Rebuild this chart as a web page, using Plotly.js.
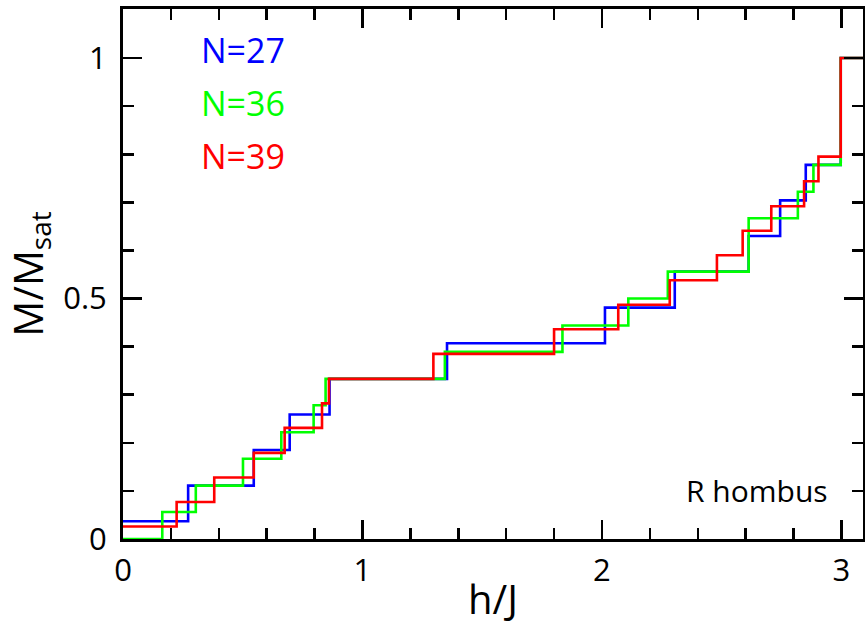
<!DOCTYPE html>
<html>
<head>
<meta charset="utf-8">
<script src="https://cdn.plot.ly/plotly-3.0.1.min.js"></script>
<style>html,body{margin:0;padding:0;background:#fff;}#chart{width:865px;height:626px;}</style>
</head>
<body>
<div id="chart"></div>
<script>
// N=27 (blue): step start positions (h/J) and magnetization levels
var hBlue = [0, 0.272, 0.546, 0.696, 0.8625, 1.353, 2.0125, 2.304, 2.6125, 2.744, 2.851, 2.997, 3.1];
var mBlue = [0.037, 0.111, 0.185, 0.259, 0.333, 0.407, 0.481, 0.556, 0.630, 0.704, 0.778, 1, 1];
// N=36 (green)
var hGreen = [0, 0.164, 0.304, 0.501, 0.661, 0.796, 0.846, 1.344, 1.835, 2.11, 2.275, 2.6125, 2.818, 2.883, 2.997, 3.1];
var mGreen = [0, 0.056, 0.111, 0.167, 0.222, 0.278, 0.333, 0.389, 0.444, 0.5, 0.556, 0.667, 0.722, 0.778, 1, 1];
// N=39 (red)
var hRed = [0, 0.224, 0.381, 0.546, 0.675, 0.831, 0.86, 1.296, 1.80, 2.068, 2.283, 2.48, 2.5875, 2.707, 2.844, 2.904, 2.997, 3.1];
var mRed = [0.026, 0.077, 0.128, 0.179, 0.231, 0.282, 0.333, 0.385, 0.436, 0.487, 0.538, 0.590, 0.641, 0.692, 0.744, 0.795, 1, 1];

var seriesNames = ['N=27', 'N=36', 'N=39'];
var seriesColors = ['#0000ff', '#00ff00', '#ff0000'];
var xTickVals = [0, 1, 2, 3];
var xTickText = ['0', '1', '2', '3'];
var yTickVals = [0, 0.5, 1];
var yTickText = ['0', '0.5', '1'];
var panelLabel = 'R hombus';

var FONT = '"Open Sans", "Noto Sans", sans-serif';
var xs = [hBlue, hGreen, hRed];
var ys = [mBlue, mGreen, mRed];
var traces = xs.map(function (x, i) {
  return {
    x: x, y: ys[i], type: 'scatter', mode: 'lines', name: seriesNames[i],
    line: {shape: 'hv', color: seriesColors[i], width: 2.6},
    hoverinfo: 'x+y'
  };
});

var labelY = [1.017, 0.906, 0.796];
var annotations = seriesNames.map(function (n, i) {
  return {x: 0.317, y: labelY[i], xref: 'x', yref: 'y', text: n, showarrow: false,
    xanchor: 'left', yanchor: 'middle', font: {family: FONT, size: 34, color: seriesColors[i]}};
});
annotations.push({x: 2.954, y: 0.1, xref: 'x', yref: 'y', text: panelLabel, showarrow: false,
  xanchor: 'right', yanchor: 'middle', font: {family: FONT, size: 30, color: '#000'}});

var axisCommon = {
  showgrid: false, zeroline: false, showline: true, linecolor: '#000', linewidth: 3,
  mirror: 'ticks', ticks: 'inside', ticklen: 19, tickwidth: 2.5, tickcolor: '#000',
  tickfont: {family: FONT, size: 31, color: '#000'}
};

var layout = {
  width: 865, height: 626,
  margin: {l: 123, r: 2, t: 9, b: 87},
  paper_bgcolor: '#fff', plot_bgcolor: '#fff',
  showlegend: false,
  xaxis: Object.assign({}, axisCommon, {
    range: [0, 3.09], tickmode: 'array', tickvals: xTickVals, ticktext: xTickText,
    ticklabelstandoff: 2,
    minor: {dtick: 0.2, ticks: 'inside', ticklen: 11, tickwidth: 2.5, tickcolor: '#000'},
    title: {text: 'h/J', font: {family: FONT, size: 40, color: '#000'}, standoff: 6}
  }),
  yaxis: Object.assign({}, axisCommon, {
    range: [0, 1.102], tickmode: 'array', tickvals: yTickVals, ticktext: yTickText,
    ticklabelstandoff: 7,
    minor: {dtick: 0.1, ticks: 'inside', ticklen: 11, tickwidth: 2.5, tickcolor: '#000'},
    title: {text: 'M/M<sub>sat</sub>', font: {family: FONT, size: 40, color: '#000'}, standoff: 12}
  }),
  annotations: annotations
};

Plotly.newPlot('chart', traces, layout, {displayModeBar: false, staticPlot: true});
</script>
</body>
</html>
